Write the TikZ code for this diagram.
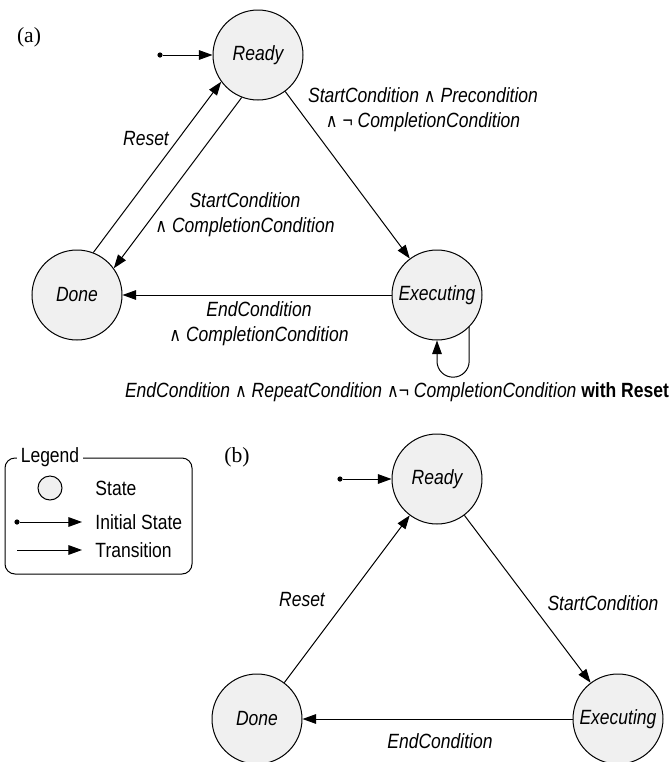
\documentclass[tikz,border=0pt]{standalone}
\usepackage{fontspec}
\setmainfont{Liberation Sans}[FakeStretch=0.85]
\newfontfamily\labelserif{Liberation Serif}
\newfontfamily\symsans{DejaVu Sans}[FakeStretch=0.85]
\usetikzlibrary{arrows.meta,positioning,calc}
\newcommand{\andc}{{\upshape\symsans\fontsize{9.5}{9.5}\selectfont ∧}}
\newcommand{\negc}{{\upshape ¬}}

\begin{document}
\begin{tikzpicture}[x=0.5pt,y=-0.5pt,line width=0.5pt,
  state node/.style={circle,draw,fill=black!6,minimum size=45pt,inner sep=0pt,font=\fontsize{10.3}{12.5}\selectfont\itshape},
  init dot/.style={circle,fill=black,minimum size=2.6pt,inner sep=0pt},
  cond/.style={align=center,inner sep=0pt,font=\fontsize{10.3}{12.5}\selectfont\itshape},
  plain/.style={inner sep=0pt,font=\fontsize{10.3}{12.5}\selectfont},
  tag/.style={inner sep=0pt,font=\labelserif\fontsize{10.8}{12}\selectfont},
  trans/.style={-{Triangle[length=6.8pt,width=4.8pt]}}]
\useasboundingbox (0,0) rectangle (671,762);
% (a)
\node[tag] (ta) at (29,37) {(a)};
\node[state node] (ra) at (258,55) {Ready};
\node[state node] (da) at (77,295) {Done};
\node[state node] (ea) at (437,295) {Executing};
\node[init dot] (ia) at (160,55) {};
% (b)
\node[tag] (tb) at (237,457) {(b)};
\node[state node] (rb) at (437,479) {Ready};
\node[state node] (db) at (257,719) {Done};
\node[state node] (eb) at (618,719) {Executing};
\node[init dot] (ib) at (340,479) {};
% legend
\draw[rounded corners=5pt] (5,458) rectangle (192,574);
\node[plain,fill=white,inner xsep=2pt,inner ysep=1pt] (lg) at (50,457) {Legend};
\node[state node,minimum size=12pt] (lgs) at (50,488) {};
\node[plain,anchor=west] (lgst) at (95,488) {State};
\node[init dot] (lgi) at (17,522) {};
\coordinate (lgie) at (82,522);
\node[plain,anchor=west] (lgit) at (95,522) {Initial State};
\coordinate (lgt) at (17,550);
\coordinate (lgte) at (82,550);
\node[plain,anchor=west] (lgtt) at (95,550) {Transition};
\begin{scope}[every edge/.style={draw=black,trans}]
\draw (ia) edge (ra);
\draw (da.69.8) edge (ra.216.2);
\draw (ra.249.8) edge (da.36.2);
\draw (ra) edge (ea);
\draw (ea) edge (da);
\draw (ib) edge (rb);
\draw (db) edge (rb);
\draw (rb) edge (eb);
\draw (eb) edge (db);
\draw (lgi) edge (lgie);
\draw (lgt) edge (lgte);
\end{scope}
\draw[trans,rounded corners=8pt] (ea.-45) -- ++(0,50) -| (ea.south);
% labels
\begin{scope}[every node/.style={cond}]
\node (ca1) at (423,110) {StartCondition \andc{} Precondition\\\andc{} \negc{} CompletionCondition};
\node (ca2) at (146,139) {Reset};
\node (ca3) at (245,215) {StartCondition\\\andc{} CompletionCondition};
\node (ca4) at (259,324) {EndCondition\\\andc{} CompletionCondition};
\node (ca5) at (397,392) {EndCondition \andc{} RepeatCondition \andc\negc{} CompletionCondition \textbf{\upshape with Reset}};
\node (cb1) at (302,600) {Reset};
\node (cb2) at (603,603) {StartCondition};
\node (cb3) at (440,741) {EndCondition};
\end{scope}
\end{tikzpicture}
\end{document}
